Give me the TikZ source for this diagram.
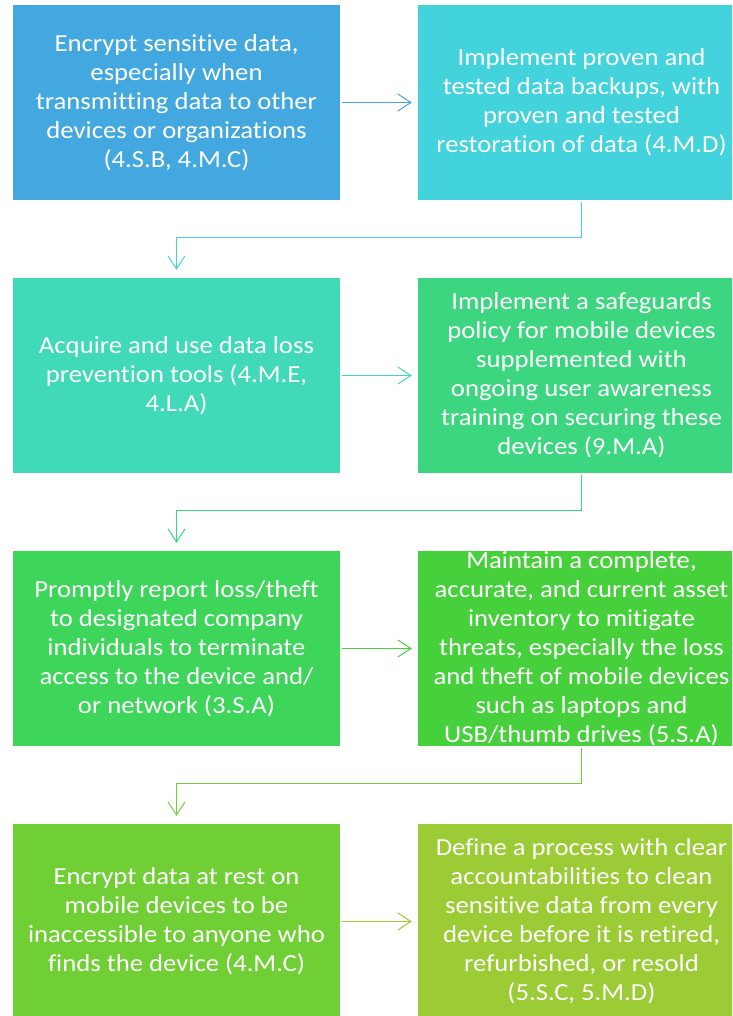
\documentclass[tikz,border=0pt]{standalone}
\usepackage{fontspec}
\setmainfont[FakeStretch=1.09,RawFeature={-liga;-clig;-calt}]{Carlito}
\usetikzlibrary{arrows.meta}

\definecolor{cA}{HTML}{44A8E0}
\definecolor{cB}{HTML}{42D3DC}
\definecolor{cC}{HTML}{41DAB8}
\definecolor{cD}{HTML}{3DD680}
\definecolor{cE}{HTML}{3DD65A}
\definecolor{cF}{HTML}{46D13C}
\definecolor{cG}{HTML}{6FCF35}
\definecolor{cH}{HTML}{9BCB35}

\tikzset{
  stepbox/.style={fill=#1, draw=none, minimum width=327pt, minimum height=195pt,
    inner sep=0pt, align=center, text=white,
    font=\fontsize{24.5}{29}\selectfont},
  flow/.style={draw=#1, line width=1pt,
    -{Straight Barb[length=13pt,width=17pt,line width=1pt]}},
}

\begin{document}
\begin{tikzpicture}[x=1pt,y=-1pt]
\clip (0,0) rectangle (732,1016);
\fill[white] (0,0) rectangle (732,1016);

% boxes: left column centred at 176.5, right column at 581.5
\node[stepbox=cA] (b1) at (176.5,102.5) {Encrypt sensitive data,\\especially when\\transmitting data to other\\devices or organizations\\(4.S.B, 4.M.C)};
\node[stepbox=cB] (b2) at (581.5,102.5) {Implement proven and\\tested data backups, with\\proven and tested\\restoration of data (4.M.D)};
\node[stepbox=cC] (b3) at (176.5,375.5) {Acquire and use data loss\\prevention tools (4.M.E,\\4.L.A)};
\node[stepbox=cD] (b4) at (581.5,375.5) {Implement a safeguards\\policy for mobile devices\\supplemented with\\ongoing user awareness\\training on securing these\\devices (9.M.A)};
\node[stepbox=cE] (b5) at (176.5,648.5) {Promptly report loss/theft\\to designated company\\individuals to terminate\\access to the device and/\\or network (3.S.A)};
\node[stepbox=cF] (b6) at (581.5,648.5) {Maintain a complete,\\accurate, and current asset\\inventory to mitigate\\threats, especially the loss\\and theft of mobile devices\\such as laptops and\\USB/thumb drives (5.S.A)};
\node[stepbox=cG] (b7) at (176.5,921.5) {Encrypt data at rest on\\mobile devices to be\\inaccessible to anyone who\\finds the device (4.M.C)};
\node[stepbox=cH] (b8) at (581.5,921.5) {Define a process with clear\\accountabilities to clean\\sensitive data from every\\device before it is retired,\\refurbished, or resold\\(5.S.C, 5.M.D)};

% horizontal arrows within each row
\draw[flow=cA, shorten <=2pt, shorten >=6pt] (b1.east) -- (b2.west);
\draw[flow=cC, shorten <=2pt, shorten >=6pt] (b3.east) -- (b4.west);
\draw[flow=cF, shorten <=2pt, shorten >=6pt] (b5.east) -- (b6.west);
\draw[flow=cH, shorten <=2pt, shorten >=6pt] (b7.east) -- (b8.west);

% elbow connectors between rows
\draw[flow=cB, shorten <=2pt, shorten >=8pt] (b2.south) -- ++(0,37) -| (b3.north);
\draw[flow=cD, shorten <=2pt, shorten >=8pt] (b4.south) -- ++(0,37) -| (b5.north);
\draw[flow=cG, shorten <=2pt, shorten >=8pt] (b6.south) -- ++(0,37) -| (b7.north);
\end{tikzpicture}
\end{document}
